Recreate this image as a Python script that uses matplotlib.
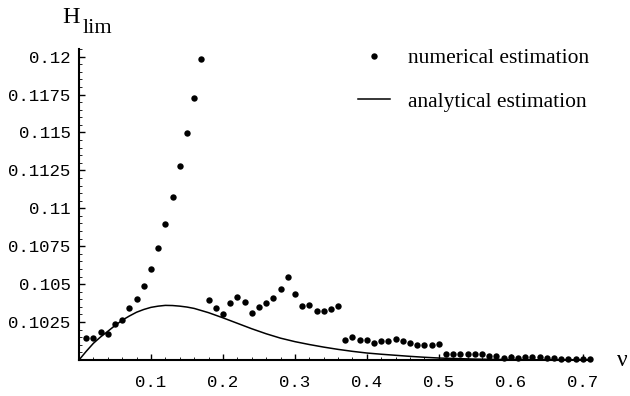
import matplotlib
matplotlib.use('Agg')
import matplotlib.pyplot as plt
from matplotlib.ticker import MultipleLocator, FixedLocator

# numerical estimation, nu = 0.01 ... 0.71
nu_num = [round(0.01 * k, 2) for k in range(1, 72)]
h_num = [0.10147, 0.10147, 0.10186, 0.10171, 0.10237, 0.10265, 0.10340, 0.10399,
         0.10489, 0.10601, 0.10739, 0.10895, 0.11074, 0.11276, 0.11495, 0.11728,
         0.11987,
         0.10398, 0.10343, 0.10304, 0.10374, 0.10418, 0.10380, 0.10309, 0.10347,
         0.10377, 0.10408, 0.10465, 0.10548, 0.10434, 0.10355, 0.10364, 0.10320,
         0.10325, 0.10338, 0.10358,
         0.10132, 0.10149, 0.10132, 0.10132, 0.10114, 0.10125, 0.10127, 0.10136,
         0.10123, 0.10110, 0.10097, 0.10097, 0.10097, 0.10107,
         0.10037, 0.10037, 0.10037, 0.10042, 0.10042, 0.10037, 0.10026, 0.10026,
         0.10015, 0.10018, 0.10015, 0.10018, 0.10018, 0.10018, 0.10015, 0.10013,
         0.10009, 0.10009, 0.10009, 0.10009, 0.10009]

# analytical estimation
nu_ana = [0.0, 0.01, 0.02, 0.03, 0.04, 0.05, 0.06, 0.07, 0.08, 0.09, 0.10, 0.11,
          0.12, 0.13, 0.14, 0.15, 0.16, 0.18, 0.20, 0.22, 0.24, 0.26, 0.28, 0.30,
          0.32, 0.34, 0.36, 0.38, 0.40, 0.42, 0.44, 0.46, 0.48, 0.50, 0.52, 0.55,
          0.60, 0.65, 0.70]
h_ana = [0.10000, 0.10057, 0.10110, 0.10152, 0.10189, 0.10227, 0.10262, 0.10290,
         0.10315, 0.10333, 0.10347, 0.10355, 0.10360, 0.10359, 0.10355, 0.10349,
         0.10340, 0.10312, 0.10278, 0.10242, 0.10206, 0.10173, 0.10144, 0.10121,
         0.10102, 0.10085, 0.10070, 0.10057, 0.10046, 0.10038, 0.10031, 0.10024,
         0.10018, 0.10013, 0.10010, 0.10006, 0.10003, 0.10001, 0.10000]

x_ticks = [0.1, 0.2, 0.3, 0.4, 0.5, 0.6, 0.7]
x_labels = ['0.1', '0.2', '0.3', '0.4', '0.5', '0.6', '0.7']
y_ticks = [0.1025, 0.105, 0.1075, 0.11, 0.1125, 0.115, 0.1175, 0.12]
y_labels = ['0.1025', '0.105', '0.1075', '0.11', '0.1125', '0.115', '0.1175', '0.12']

serif = 'Liberation Serif'
mono = 'Liberation Mono'

fig = plt.figure(figsize=(6.3, 3.96), dpi=100)
ax = fig.add_axes([79 / 630, 36 / 396, 511 / 630, 311 / 396])

pts, = ax.plot(nu_num, h_num, 'o', color='black', ms=4.6, mew=0, clip_on=False,
               label='numerical estimation')
crv, = ax.plot(nu_ana, h_ana, '-', color='black', lw=1.1, clip_on=False,
               label='analytical estimation')

ax.set_xlim(0, 0.71)
ax.set_ylim(0.1, 0.1205)

for side in ('top', 'right'):
    ax.spines[side].set_visible(False)
for side in ('left', 'bottom'):
    ax.spines[side].set_linewidth(1.5)

ax.xaxis.set_major_locator(FixedLocator(x_ticks))
ax.set_xticklabels(x_labels)
ax.yaxis.set_major_locator(FixedLocator(y_ticks))
ax.set_yticklabels(y_labels)
ax.xaxis.set_minor_locator(MultipleLocator(0.02))
ax.yaxis.set_minor_locator(MultipleLocator(0.0005))

ax.tick_params(which='major', direction='in', length=4, width=1.0)
ax.tick_params(which='minor', direction='in', length=2, width=0.6)
ax.tick_params(axis='x', which='major', pad=11)
ax.tick_params(axis='y', which='major', pad=6)
for lab in ax.get_xticklabels() + ax.get_yticklabels():
    lab.set_fontfamily(mono)
    lab.set_fontsize(12.5)

# axis titles
fig.text(62 / 630, 1 - 23 / 396, 'H', family=serif, fontsize=17.5, va='baseline')
fig.text(83 / 630, 1 - 33 / 396, 'lim', family=serif, fontsize=16, va='baseline')
fig.text(617 / 630, 1 - 366 / 396, 'ν', family=serif, fontsize=17, va='baseline')

ax.legend(handles=[pts, crv], loc='upper left',
          bbox_to_anchor=(358 / 630, 1 - 48 / 396), bbox_transform=fig.transFigure,
          frameon=False, numpoints=1, handlelength=1.47, handletextpad=0.83,
          labelspacing=1.1, borderpad=0, borderaxespad=0,
          prop={'family': serif, 'size': 15.5})

fig.savefig('out.png', dpi=100)
